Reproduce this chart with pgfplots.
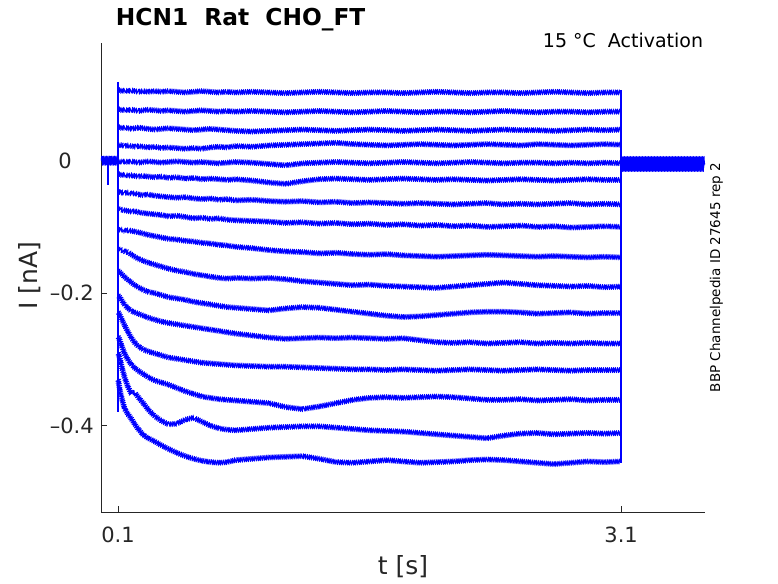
\documentclass[border=0pt]{standalone}
\usepackage{fontspec}
\setmainfont{DejaVu Sans}
\usepackage{pgfplots}
\pgfplotsset{compat=1.18}
\usepackage{pgfplotstable}
\usetikzlibrary{decorations.pathmorphing}
\definecolor{axgray}{rgb}{0.15,0.15,0.15}
\tikzset{trace/.style={blue, line width=0.85pt, line join=round, decorate,
  decoration={zigzag, segment length=2.0pt, amplitude=2.6pt}},
  traceb/.style={blue, line width=0.85pt, line join=round, decorate,
  decoration={zigzag, segment length=2.9pt, amplitude=1.9pt}}}

\pgfplotstableread{
t a1 a2 a3 a4 a5 a6 a7 a8 a9 a10 a11 a12 a13 a14 a15 a16
0.100 0.107 0.078 0.051 0.024 -0.001 -0.020 -0.047 -0.072 -0.104 -0.133 -0.166 -0.203 -0.228 -0.265 -0.290 -0.330
0.110 0.106 0.077 0.050 0.024 -0.001 -0.021 -0.048 -0.074 -0.105 -0.135 -0.168 -0.206 -0.233 -0.271 -0.298 -0.345
0.125 0.105 0.076 0.049 0.023 -0.002 -0.022 -0.048 -0.074 -0.104 -0.135 -0.172 -0.212 -0.241 -0.282 -0.314 -0.362
0.140 0.106 0.077 0.050 0.022 -0.001 -0.021 -0.049 -0.075 -0.106 -0.137 -0.176 -0.218 -0.249 -0.292 -0.328 -0.375
0.160 0.105 0.076 0.049 0.023 -0.002 -0.023 -0.048 -0.076 -0.105 -0.138 -0.180 -0.223 -0.259 -0.301 -0.342 -0.383
0.180 0.106 0.077 0.048 0.022 -0.001 -0.022 -0.050 -0.077 -0.106 -0.142 -0.184 -0.227 -0.268 -0.308 -0.352 -0.390
0.200 0.105 0.076 0.049 0.021 -0.002 -0.023 -0.049 -0.076 -0.107 -0.145 -0.188 -0.229 -0.275 -0.313 -0.350 -0.398
0.220 0.104 0.075 0.050 0.022 -0.003 -0.024 -0.051 -0.078 -0.108 -0.148 -0.191 -0.231 -0.280 -0.317 -0.357 -0.405
0.250 0.105 0.076 0.049 0.021 -0.002 -0.023 -0.052 -0.079 -0.110 -0.151 -0.195 -0.234 -0.285 -0.322 -0.366 -0.414
0.280 0.104 0.077 0.048 0.020 -0.001 -0.024 -0.051 -0.080 -0.112 -0.154 -0.198 -0.237 -0.288 -0.327 -0.376 -0.419
0.320 0.105 0.076 0.047 0.021 -0.002 -0.025 -0.053 -0.081 -0.114 -0.157 -0.200 -0.240 -0.291 -0.332 -0.386 -0.424
0.360 0.104 0.075 0.048 0.019 -0.003 -0.024 -0.054 -0.082 -0.116 -0.160 -0.203 -0.243 -0.294 -0.335 -0.393 -0.430
0.400 0.105 0.076 0.049 0.020 -0.002 -0.026 -0.055 -0.084 -0.118 -0.163 -0.206 -0.245 -0.297 -0.338 -0.398 -0.435
0.450 0.104 0.075 0.048 0.019 -0.001 -0.025 -0.056 -0.083 -0.119 -0.166 -0.208 -0.247 -0.299 -0.343 -0.397 -0.441
0.500 0.103 0.074 0.047 0.018 -0.002 -0.027 -0.055 -0.085 -0.121 -0.168 -0.210 -0.249 -0.301 -0.348 -0.391 -0.446
0.550 0.104 0.075 0.046 0.019 -0.003 -0.026 -0.057 -0.087 -0.122 -0.171 -0.213 -0.251 -0.303 -0.352 -0.388 -0.450
0.600 0.105 0.076 0.047 0.018 -0.002 -0.028 -0.058 -0.086 -0.124 -0.173 -0.215 -0.253 -0.305 -0.356 -0.394 -0.453
0.650 0.104 0.075 0.048 0.020 -0.003 -0.027 -0.057 -0.088 -0.125 -0.175 -0.217 -0.255 -0.306 -0.358 -0.400 -0.455
0.700 0.103 0.074 0.047 0.021 -0.004 -0.028 -0.059 -0.087 -0.127 -0.177 -0.219 -0.257 -0.307 -0.360 -0.404 -0.456
0.750 0.104 0.075 0.046 0.020 -0.003 -0.029 -0.058 -0.089 -0.128 -0.178 -0.221 -0.259 -0.308 -0.361 -0.406 -0.455
0.800 0.103 0.074 0.045 0.022 -0.002 -0.028 -0.060 -0.090 -0.130 -0.177 -0.222 -0.261 -0.309 -0.362 -0.407 -0.452
0.900 0.104 0.075 0.044 0.021 -0.003 -0.030 -0.059 -0.091 -0.132 -0.178 -0.224 -0.264 -0.310 -0.364 -0.405 -0.450
1.000 0.103 0.074 0.045 0.023 -0.005 -0.033 -0.061 -0.092 -0.135 -0.177 -0.226 -0.267 -0.311 -0.366 -0.403 -0.448
1.100 0.102 0.073 0.046 0.024 -0.007 -0.035 -0.062 -0.094 -0.137 -0.179 -0.223 -0.269 -0.311 -0.372 -0.402 -0.447
1.200 0.103 0.074 0.047 0.025 -0.004 -0.031 -0.061 -0.093 -0.138 -0.182 -0.221 -0.268 -0.312 -0.375 -0.401 -0.446
1.300 0.104 0.075 0.046 0.026 -0.003 -0.028 -0.063 -0.095 -0.140 -0.184 -0.222 -0.267 -0.313 -0.371 -0.401 -0.450
1.400 0.103 0.074 0.045 0.027 -0.002 -0.027 -0.062 -0.094 -0.139 -0.186 -0.225 -0.268 -0.314 -0.366 -0.403 -0.455
1.500 0.102 0.073 0.046 0.025 -0.003 -0.028 -0.064 -0.096 -0.141 -0.188 -0.228 -0.267 -0.315 -0.361 -0.405 -0.456
1.600 0.103 0.074 0.047 0.024 -0.004 -0.029 -0.063 -0.095 -0.142 -0.187 -0.231 -0.268 -0.315 -0.358 -0.407 -0.454
1.700 0.103 0.075 0.046 0.023 -0.003 -0.028 -0.064 -0.097 -0.141 -0.189 -0.234 -0.269 -0.316 -0.357 -0.408 -0.452
1.800 0.102 0.074 0.045 0.024 -0.002 -0.027 -0.065 -0.096 -0.143 -0.190 -0.236 -0.268 -0.315 -0.358 -0.409 -0.454
1.900 0.103 0.073 0.046 0.025 -0.003 -0.028 -0.064 -0.098 -0.144 -0.191 -0.235 -0.271 -0.316 -0.357 -0.411 -0.456
2.000 0.104 0.074 0.047 0.024 -0.004 -0.029 -0.065 -0.097 -0.145 -0.192 -0.233 -0.274 -0.317 -0.356 -0.413 -0.455
2.100 0.103 0.074 0.046 0.023 -0.003 -0.028 -0.066 -0.099 -0.144 -0.190 -0.231 -0.275 -0.316 -0.357 -0.415 -0.454
2.200 0.102 0.073 0.045 0.024 -0.002 -0.029 -0.065 -0.098 -0.143 -0.188 -0.229 -0.274 -0.315 -0.359 -0.417 -0.452
2.300 0.103 0.074 0.046 0.025 -0.003 -0.030 -0.064 -0.100 -0.142 -0.186 -0.228 -0.276 -0.316 -0.361 -0.419 -0.451
2.400 0.103 0.075 0.047 0.024 -0.004 -0.029 -0.066 -0.099 -0.143 -0.184 -0.228 -0.275 -0.317 -0.361 -0.415 -0.452
2.500 0.102 0.074 0.046 0.023 -0.003 -0.028 -0.065 -0.098 -0.144 -0.186 -0.229 -0.274 -0.316 -0.360 -0.412 -0.454
2.600 0.103 0.073 0.046 0.025 -0.003 -0.029 -0.066 -0.100 -0.145 -0.188 -0.231 -0.276 -0.315 -0.362 -0.411 -0.456
2.700 0.104 0.074 0.045 0.024 -0.004 -0.030 -0.065 -0.099 -0.144 -0.189 -0.230 -0.275 -0.316 -0.361 -0.413 -0.458
2.800 0.103 0.074 0.046 0.023 -0.003 -0.029 -0.064 -0.101 -0.145 -0.190 -0.229 -0.276 -0.317 -0.360 -0.412 -0.456
2.900 0.102 0.073 0.047 0.024 -0.004 -0.028 -0.066 -0.100 -0.146 -0.189 -0.231 -0.275 -0.316 -0.362 -0.411 -0.454
3.000 0.103 0.074 0.046 0.025 -0.003 -0.029 -0.065 -0.099 -0.145 -0.191 -0.230 -0.276 -0.316 -0.361 -0.412 -0.455
3.100 0.103 0.074 0.047 0.024 -0.004 -0.029 -0.066 -0.100 -0.146 -0.190 -0.230 -0.276 -0.316 -0.361 -0.411 -0.454
}\traces

\begin{document}
\begin{tikzpicture}[x=1pt,y=1pt]
\useasboundingbox (0,0) rectangle (778,583);
\begin{axis}[
  at={(101.3pt,71pt)}, anchor=south west,
  scale only axis, width=603.7pt, height=468.7pt,
  xmin=0, xmax=3.6, ymin=-0.5303, ymax=0.1772,
  axis x line*=bottom, axis y line*=left,
  axis line style={-, draw=axgray, line width=0.6pt},
  xtick={0.1,3.1}, xticklabels={0.1,3.1},
  ytick={-0.4,-0.2,0}, yticklabels={\textendash0.4,\textendash0.2,0\rule{22pt}{0pt}},
  tick align=inside, major tick length=6pt,
  tick style={draw=axgray, line width=0.6pt},
  ticklabel style={font=\fontsize{21}{25}\selectfont, text=axgray},
  xticklabel style={yshift=-11pt},
  yticklabel style={xshift=-4pt},
  clip=false,
]
% holding segments
\addplot[blue, line width=1.1pt, line join=round, decorate, decoration={zigzag, segment length=1.6pt, amplitude=4.5pt}]
  coordinates {(0,0) (0.1,0)};
\addplot[blue, line width=1.0pt, line join=round, decorate, decoration={zigzag, segment length=1.5pt, amplitude=7.5pt}]
  coordinates {(3.1,-0.005) (3.6,-0.005)};
\addplot[blue, line width=1.0pt, line join=round, decorate, decoration={zigzag, segment length=2.3pt, amplitude=5pt}]
  coordinates {(3.1,-0.005) (3.6,-0.005)};
\addplot[blue, line width=2.5pt] coordinates {(0.04,0.002) (0.04,-0.037)};
% step edges
\addplot[blue, line width=1.8pt] coordinates {(0.1,0.119) (0.1,-0.379)};
\addplot[blue, line width=1.8pt] coordinates {(3.1,0.107) (3.1,-0.457)};
% sweeps
\pgfplotsinvokeforeach{1,...,16}{
  \addplot[trace] table[x=t, y=a#1] {\traces};
  \addplot[traceb] table[x=t, y=a#1] {\traces};
}
\end{axis}
\node[anchor=base west, inner sep=0, font=\fontsize{23.3}{28}\selectfont\bfseries] at (115.7,557) {HCN1~~Rat~~CHO\_FT};
\node[anchor=base east, inner sep=0, font=\fontsize{19}{23}\selectfont] at (703.3,535.7) {15 °C~~Activation};
\node[rotate=90, anchor=base, inner sep=0, font=\fontsize{13.5}{16}\selectfont] at (720,305.5) {BBP Channelpedia ID 27645 rep 2};
\node[rotate=90, text=axgray, font=\fontsize{25}{29}\selectfont] at (30,307) {I [nA]};
\node[text=axgray, font=\fontsize{25}{29}\selectfont] at (403,16) {t [s]};
\end{tikzpicture}
\end{document}
